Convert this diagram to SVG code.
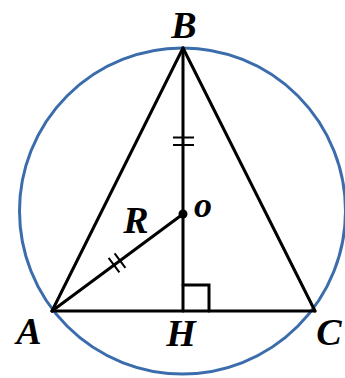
<svg xmlns="http://www.w3.org/2000/svg" width="345" height="378" viewBox="0 0 345 378">
  <style>
    .ln { stroke: #000; stroke-width: 3; fill: none; stroke-linecap: round; stroke-linejoin: miter; }
    .tk { stroke: #000; stroke-width: 2; fill: none; }
    .lbl { font-family: "Liberation Serif", "Times New Roman", serif; font-weight: bold; font-style: italic; font-size: 38px; fill: #000; text-anchor: middle; }
  </style>
  <rect width="345" height="378" fill="#fff"/>
  <g id="circle">
    <circle cx="182.5" cy="211" r="163" fill="none" stroke="#3b6cab" stroke-width="3"/>
  </g>
  <g id="connectors">
    <line class="ln" x1="52" y1="311" x2="183" y2="48"/>
    <line class="ln" x1="183" y1="48" x2="315" y2="311"/>
    <line class="ln" x1="52" y1="311" x2="315" y2="311"/>
    <line class="ln" x1="183" y1="48" x2="183" y2="311"/>
    <line class="ln" x1="52" y1="311" x2="183" y2="214"/>
    <polyline class="ln" points="183,285 209,285 209,311"/>
    <line class="tk" x1="173" y1="137.5" x2="194" y2="137.5"/>
    <line class="tk" x1="173" y1="145" x2="194" y2="145"/>
    <line class="tk" x1="108.6" y1="257.9" x2="119.4" y2="272.3"/>
    <line class="tk" x1="114.6" y1="253.4" x2="125.4" y2="267.8"/>
  </g>
  <g id="B"><text class="lbl" x="184" y="38">B</text></g>
  <g id="A"><text class="lbl" x="29" y="344">A</text></g>
  <g id="H"><text class="lbl" x="181" y="346">H</text></g>
  <g id="C"><text class="lbl" x="329" y="345">C</text></g>
  <g id="O">
    <circle cx="183" cy="214" r="4.5" fill="#000"/>
    <text class="lbl" x="203" y="217" style="font-size:36px">o</text>
  </g>
  <g id="R"><text class="lbl" x="136" y="233">R</text></g>
</svg>
